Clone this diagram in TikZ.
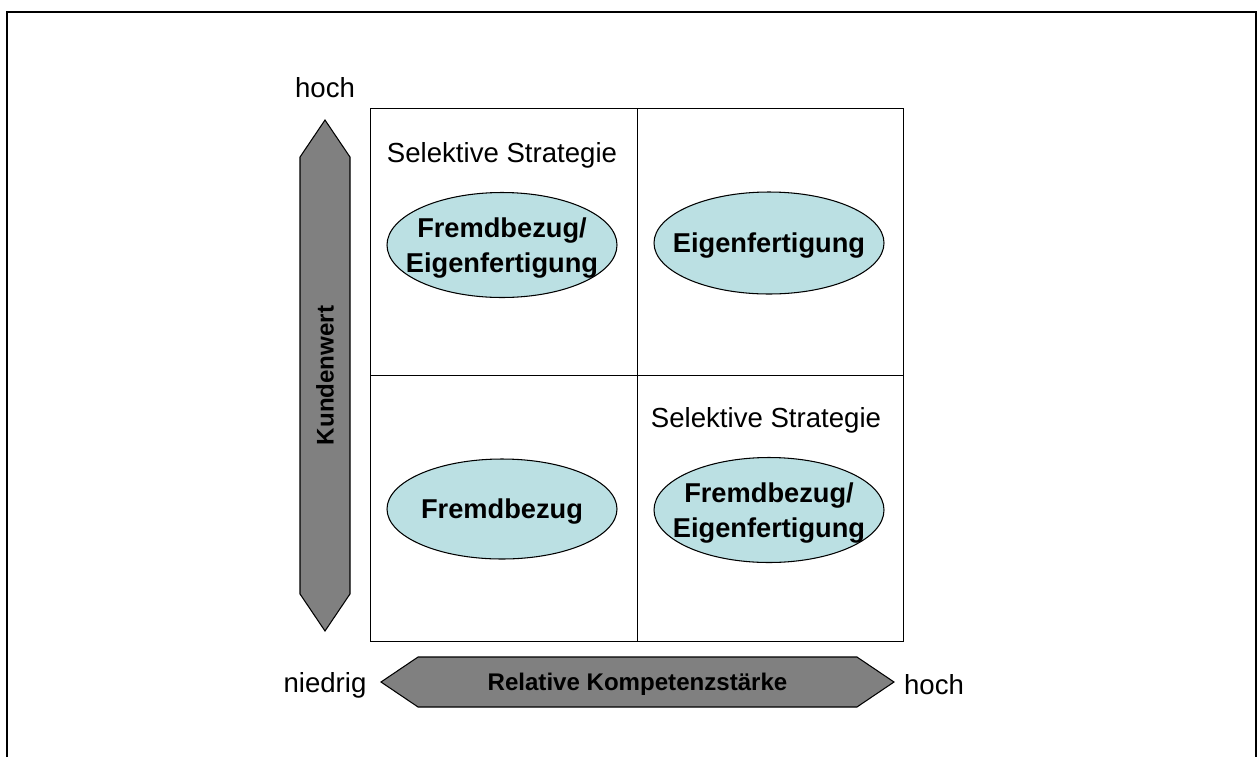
\documentclass[tikz,border=0pt]{standalone}
\usepackage{fontspec}
\setmainfont{Liberation Sans}
\usepackage{tikz}
\usetikzlibrary{shapes.geometric,shapes.arrows}
\definecolor{feld}{RGB}{187,224,227}
\definecolor{pfeil}{RGB}{128,128,128}
\tikzset{
 strategie/.style={ellipse,draw=black,line width=.6pt,fill=feld,minimum width=4.6cm,minimum height=2.1cm,inner xsep=-.5cm,inner ysep=0pt,text depth=0pt,align=center,font=\fontsize{15.5}{19.5}\selectfont\bfseries},
 achse/.style={double arrow,draw=black,line width=.6pt,fill=pfeil,double arrow head extend=0pt,double arrow tip angle=68,minimum width=1cm,inner sep=0pt,text depth=0pt,font=\fontsize{13.7}{16}\selectfont\bfseries},
 beschr/.style={font=\fontsize{15.7}{18}\selectfont},
 feldrand/.style={draw=black,line width=.7pt,minimum size=5.33cm,inner sep=0pt,anchor=north west}
}
\begin{document}
\begin{tikzpicture}[x=0.2mm,y=-0.2mm]
\useasboundingbox (0,0) rectangle (1260,757);
\draw[line width=1.4pt] (7,757) |- (1256,12) -- (1256,757);

\node[feldrand] (ol) at (370,108) {};
\node[feldrand] (or) at (636.5,108) {};
\node[feldrand] (ul) at (370,374.5) {};
\node[feldrand] (ur) at (636.5,374.5) {};

\node[beschr] (sel1) at (502,155) {Selektive Strategie};
\node[beschr] (sel2) at (766,420) {Selektive Strategie};

\node[strategie] (fe1) at (502,245) {Fremdbezug/\\Eigenfertigung};
\node[strategie,minimum height=2.04cm] (eig) at (769,243) {Eigenfertigung};
\node[strategie,minimum height=2.0cm] (frb) at (502,509) {Fremdbezug};
\node[strategie] (fe2) at (769,510) {Fremdbezug/\\Eigenfertigung};

\node[achse,minimum height=10.22cm,rotate=90] (kw) at (325,375.5) {Kundenwert};
\node[achse,minimum height=10.26cm] (rk) at (637.5,682) {Relative Kompetenzstärke};

\node[beschr] (hoch1) at (325,88) {hoch};
\node[beschr] (nied) at (325,685) {niedrig};
\node[beschr] (hoch2) at (934,685) {hoch};
\end{tikzpicture}
\end{document}
